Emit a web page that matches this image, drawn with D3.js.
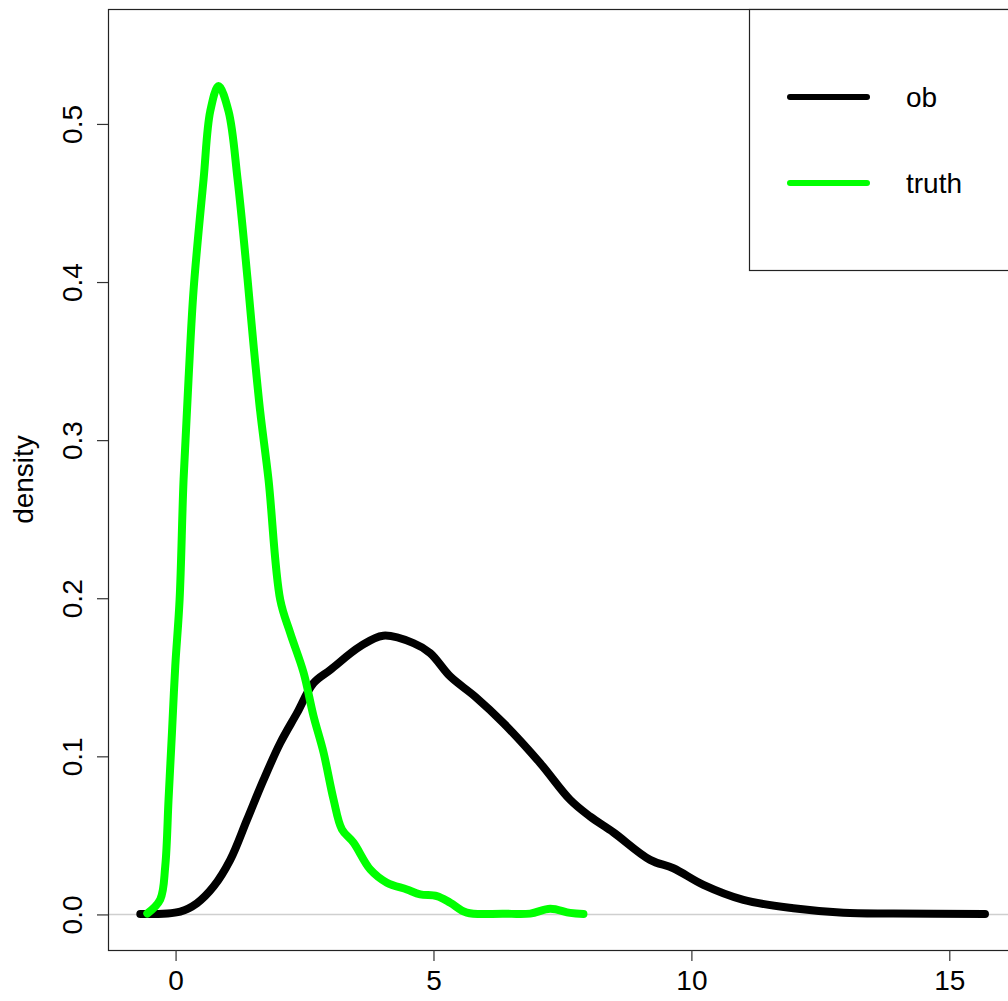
<!DOCTYPE html>
<html>
<head>
<meta charset="utf-8">
<script src="https://cdn.jsdelivr.net/npm/d3@7"></script>
<style>
  html, body { margin: 0; padding: 0; background: #fff; }
  svg { display: block; }
  text { font-family: "Liberation Sans", Arial, Helvetica, sans-serif; }
</style>
</head>
<body>
<svg id="chart" width="1008" height="1001"></svg>
<script>
// Kernel density estimate of the observed values
const obX = [-0.684, 0.091, 0.415, 0.736, 1.060, 1.384, 1.705, 2.029, 2.353, 2.674, 3.000,
             3.579, 4.025, 4.612, 4.936, 5.324, 5.810, 6.357, 7.068, 7.649, 8.037, 8.488,
             9.200, 9.651, 10.233, 11.008, 11.977, 12.946, 13.915, 15.692];
const obY = [0.0003, 0.0018, 0.0071, 0.0176, 0.0345, 0.0598, 0.0851, 0.1084, 0.1273, 0.1463, 0.1547,
             0.1695, 0.1763, 0.1716, 0.1653, 0.1505, 0.1377, 0.1210, 0.0957, 0.0725, 0.0619, 0.0519,
             0.0345, 0.0292, 0.0187, 0.0092, 0.0039, 0.0011, 0.0006, 0.0003];

// Kernel density estimate of the true values
const truthX = [-0.548, -0.297, -0.200, -0.136, -0.070, -0.006, 0.078, 0.155, 0.252, 0.349,
                0.543, 0.672, 0.833, 1.027, 1.202, 1.395, 1.512, 1.641, 1.802, 2.029, 2.223,
                2.481, 2.674, 2.868, 3.062, 3.225, 3.450, 3.773, 4.097, 4.484, 4.742, 5.066,
                5.324, 5.647, 6.357, 6.874, 7.262, 7.649, 7.907];
const truthY = [0.0006, 0.0095, 0.0306, 0.0728, 0.115, 0.157, 0.199, 0.275, 0.339, 0.395,
                0.465, 0.508, 0.524, 0.508, 0.465, 0.402, 0.360, 0.318, 0.275, 0.199, 0.178,
                0.153, 0.1255, 0.1025, 0.0728, 0.0538, 0.0454, 0.0285, 0.0201, 0.0158, 0.0127, 0.0116,
                0.0074, 0.0011, 0.0005, 0.0005, 0.0036, 0.0010, 0.0003];

const xTicks = [0, 5, 10, 15];
const yTicks = [0.0, 0.1, 0.2, 0.3, 0.4, 0.5];
const seriesNames = ["ob", "truth"];
const seriesColors = ["#000000", "#00ff00"];
const yLabel = "density";

const svg = d3.select("#chart");
const plotLeft = 108, plotRight = 1021, plotTop = 9, plotBottom = 950;

const x = d3.scaleLinear().domain([-1.31, 16.39]).range([plotLeft, plotRight]);
const y = d3.scaleLinear().domain([-0.0225, 0.5727]).range([plotBottom, plotTop]);

const plot = svg.append("g");

// horizontal reference line at zero
plot.append("line")
  .attr("x1", plotLeft).attr("x2", plotRight)
  .attr("y1", y(0)).attr("y2", y(0))
  .attr("stroke", "#cfcfcf").attr("stroke-width", 1.5);

const line = d3.line()
  .x(d => x(d[0]))
  .y(d => y(d[1]))
  .curve(d3.curveCatmullRom.alpha(0.5));

const series = [
  { name: seriesNames[0], color: seriesColors[0], pts: d3.zip(obX, obY) },
  { name: seriesNames[1], color: seriesColors[1], pts: d3.zip(truthX, truthY) }
];

plot.selectAll("path.density")
  .data(series)
  .join("path")
  .attr("class", "density")
  .attr("d", d => line(d.pts))
  .attr("fill", "none")
  .attr("stroke", d => d.color)
  .attr("stroke-width", 8)
  .attr("stroke-linecap", "round")
  .attr("stroke-linejoin", "round");

// plot frame
svg.append("rect")
  .attr("x", plotLeft + 0.5).attr("y", plotTop + 0.5)
  .attr("width", plotRight - plotLeft).attr("height", plotBottom - plotTop)
  .attr("fill", "none").attr("stroke", "#222").attr("stroke-width", 1.2);

// x axis
const gx = svg.append("g")
  .attr("transform", `translate(0,${plotBottom})`)
  .call(d3.axisBottom(x).tickValues(xTicks).tickSize(11).tickFormat(d3.format("d")));
gx.select(".domain").remove();
gx.selectAll(".tick line").attr("stroke", "#333").attr("stroke-width", 1.2);
gx.selectAll(".tick text")
  .attr("y", 40).attr("dy", null)
  .attr("font-size", 28).attr("fill", "#000")
  .style("font-family", '"Liberation Sans", Arial, sans-serif');

// y axis with rotated labels
const gy = svg.append("g")
  .attr("transform", `translate(${plotLeft},0)`)
  .call(d3.axisLeft(y).tickValues(yTicks).tickSize(11).tickFormat(d3.format(".1f")));
gy.select(".domain").remove();
gy.selectAll(".tick line").attr("stroke", "#333").attr("stroke-width", 1.2);
gy.selectAll(".tick text")
  .attr("x", null).attr("dy", null)
  .attr("text-anchor", "middle")
  .attr("transform", `translate(${82 - plotLeft},0) rotate(-90)`)
  .attr("font-size", 28).attr("fill", "#000")
  .style("font-family", '"Liberation Sans", Arial, sans-serif');

// y axis title
svg.append("text")
  .attr("transform", `translate(33,${(plotTop + plotBottom) / 2}) rotate(-90)`)
  .attr("text-anchor", "middle")
  .attr("font-size", 28)
  .text(yLabel);

// legend
const lg = svg.append("g");
lg.append("rect")
  .attr("x", 749.5).attr("y", plotTop + 0.5)
  .attr("width", plotRight - 749).attr("height", 270 - plotTop)
  .attr("fill", "#fff").attr("stroke", "#222").attr("stroke-width", 1.2);

const legendRows = lg.selectAll("g.row")
  .data(series)
  .join("g")
  .attr("class", "row")
  .attr("transform", (d, i) => `translate(0,${97 + i * 86})`);

legendRows.append("line")
  .attr("x1", 790).attr("x2", 867)
  .attr("y1", 0).attr("y2", 0)
  .attr("stroke", d => d.color)
  .attr("stroke-width", 6)
  .attr("stroke-linecap", "round");

legendRows.append("text")
  .attr("x", 906).attr("y", 10)
  .attr("font-size", 28)
  .text(d => d.name);
</script>
</body>
</html>
